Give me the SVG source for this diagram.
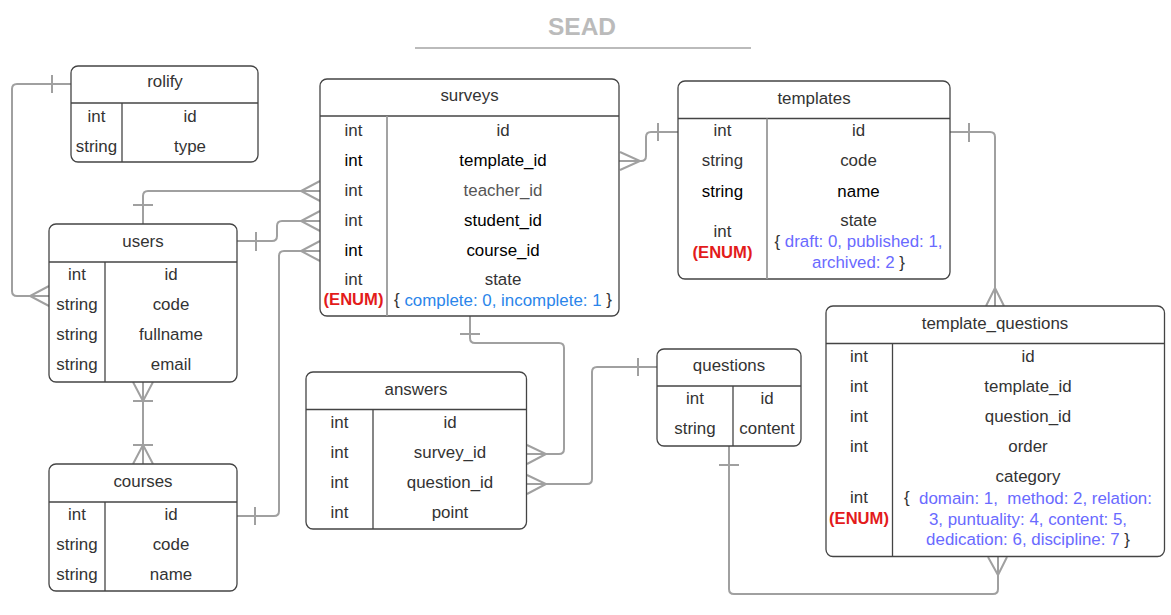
<svg xmlns="http://www.w3.org/2000/svg" width="1171" height="615" viewBox="0 0 1171 615">
<style>
text{font-family:"Liberation Sans",Arial,sans-serif;font-size:16.9px;fill:#333;text-anchor:middle;dominant-baseline:central}
.title{font-size:24.5px;font-weight:bold;fill:#bbb;dominant-baseline:auto}
.box{fill:#fff;stroke:#444;stroke-width:1.3}
.hl{stroke:#444;stroke-width:1.3}
.dv{stroke:#444;stroke-width:1.3}
.dvg{stroke:#999;stroke-width:1.8}
.k{fill:#000}
.e{fill:#e31b1b;font-weight:bold;font-size:16.6px}
.b{fill:#2a85ea}
.v{fill:#6a6aff}
.c{fill:none;stroke:#a0a0a0;stroke-width:2}
</style>
<text class="title" x="582" y="35">SEAD</text>
<line x1="415" y1="48" x2="751" y2="48" stroke="#bbb" stroke-width="2"/>

<g id="connectors" class="c">
  <!-- rolify - users -->
  <path d="M71,84 H17 Q12,84 12,89 V291 Q12,296 17,296 H49"/>
  <path d="M52,75 V93"/>
  <path d="M49,286 L30,296 L49,306"/>
  <!-- users top - surveys teacher_id -->
  <path d="M143,224 V196 Q143,191 148,191 H320"/>
  <path d="M133,205 H153"/>
  <path d="M320,181 L301,191 L320,201"/>
  <!-- users right - surveys student_id -->
  <path d="M237,241 H272 Q277,241 277,236 V226 Q277,221 282,221 H320"/>
  <path d="M256,232 V251"/>
  <path d="M320,211 L301,221 L320,231"/>
  <!-- courses right - surveys course_id -->
  <path d="M237,516 H274 Q279,516 279,511 V256 Q279,251 284,251 H320"/>
  <path d="M255,507 V525"/>
  <path d="M320,241 L301,251 L320,261"/>
  <!-- surveys template_id - templates -->
  <path d="M619,161 H641 Q646,161 646,156 V137 Q646,132 651,132 H678"/>
  <path d="M620,152 L640,161 L620,170"/>
  <path d="M658,123 V141"/>
  <!-- templates - template_questions -->
  <path d="M950,132 H990 Q995,132 995,137 V306"/>
  <path d="M969,123 V142"/>
  <path d="M986,306 L995,288 L1004,306"/>
  <!-- surveys - answers survey_id -->
  <path d="M470,316 V338 Q470,343 475,343 H559 Q564,343 564,348 V449 Q564,454 559,454 H527"/>
  <path d="M460,334 H480"/>
  <path d="M527,445 L546,454 L527,464"/>
  <!-- questions - answers question_id -->
  <path d="M657,367 H597 Q592,367 592,372 V479 Q592,484 587,484 H527"/>
  <path d="M638,358 V376"/>
  <path d="M527,475 L546,484 L527,494"/>
  <!-- questions - template_questions -->
  <path d="M729,446 V589 Q729,594 734,594 H993 Q998,594 998,589 V557"/>
  <path d="M719,465 H739"/>
  <path d="M988,557 L998,575 L1007,557"/>
  <!-- users - courses -->
  <path d="M143,382 V464"/>
  <path d="M133,382 L143,401 L153,382"/>
  <path d="M133,401 H153"/>
  <path d="M133,464 L143,445 L153,464"/>
  <path d="M133,445 H153"/>
</g>

<g id="rolify">
  <rect class="box" x="71" y="66" width="187" height="96" rx="7"/>
  <line class="hl" x1="71" y1="103" x2="258" y2="103"/>
  <line class="dv" x1="122" y1="103" x2="122" y2="162"/>
  <text x="165" y="81.5">rolify</text>
  <text x="96.5" y="116.5">int</text><text x="190" y="116.5">id</text>
  <text x="96.5" y="146">string</text><text x="190" y="146">type</text>
</g>

<g id="surveys">
  <rect class="box" x="320" y="79" width="299" height="237" rx="7"/>
  <line class="hl" x1="320" y1="116" x2="619" y2="116"/>
  <line class="dvg" x1="387" y1="116" x2="387" y2="316"/>
  <text x="469.5" y="95.5">surveys</text>
  <text x="353.5" y="130">int</text><text x="503" y="130">id</text>
  <text class="k" x="353.5" y="160">int</text><text class="k" x="503" y="160">template_id</text>
  <text x="353.5" y="190">int</text><text x="503" y="190" style="fill:#555">teacher_id</text>
  <text x="353.5" y="220">int</text><text class="k" x="503" y="220">student_id</text>
  <text class="k" x="353.5" y="250">int</text><text class="k" x="503" y="250">course_id</text>
  <text x="353.5" y="279.5">int</text><text x="503" y="279.5">state</text>
  <text class="e" x="353.5" y="299.5">(ENUM)</text>
  <text x="503" y="299.5">{ <tspan class="b">complete: 0, incomplete: 1</tspan> }</text>
</g>

<g id="templates">
  <rect class="box" x="678" y="81" width="272" height="198" rx="7"/>
  <line class="hl" x1="678" y1="118.5" x2="950" y2="118.5"/>
  <line class="dvg" x1="767" y1="118.5" x2="767" y2="279"/>
  <text x="814" y="98">templates</text>
  <text x="722.5" y="130.5">int</text><text x="858.5" y="130.5">id</text>
  <text x="722.5" y="160.5">string</text><text x="858.5" y="160.5">code</text>
  <text class="k" x="722.5" y="191">string</text><text class="k" x="858.5" y="191">name</text>
  <text x="722.5" y="231">int</text>
  <text class="e" x="722.5" y="252">(ENUM)</text>
  <text x="858.5" y="220.5">state</text>
  <text x="858.5" y="241">{ <tspan class="v">draft: 0, published: 1,</tspan></text>
  <text x="858.5" y="262"><tspan class="v">archived: 2</tspan> }</text>
</g>

<g id="users">
  <rect class="box" x="49" y="224" width="188" height="158" rx="7"/>
  <line class="hl" x1="49" y1="262" x2="237" y2="262"/>
  <line class="dv" x1="105" y1="262" x2="105" y2="382"/>
  <text x="143" y="241.5">users</text>
  <text x="77" y="274.5">int</text><text x="171" y="274.5">id</text>
  <text x="77" y="304.5">string</text><text x="171" y="304.5">code</text>
  <text x="77" y="334.5">string</text><text x="171" y="334.5">fullname</text>
  <text x="77" y="364.5">string</text><text x="171" y="364.5">email</text>
</g>

<g id="courses">
  <rect class="box" x="49" y="464" width="188" height="127" rx="7"/>
  <line class="hl" x1="49" y1="502" x2="237" y2="502"/>
  <line class="dv" x1="105" y1="502" x2="105" y2="591"/>
  <text x="143" y="481">courses</text>
  <text x="77" y="514.5">int</text><text x="171" y="514.5">id</text>
  <text x="77" y="544.5">string</text><text x="171" y="544.5">code</text>
  <text x="77" y="574.5">string</text><text x="171" y="574.5">name</text>
</g>

<g id="answers">
  <rect class="box" x="306" y="372" width="220.5" height="157" rx="7"/>
  <line class="hl" x1="306" y1="409.5" x2="526.5" y2="409.5"/>
  <line class="dv" x1="373" y1="409.5" x2="373" y2="529"/>
  <text x="416" y="389">answers</text>
  <text x="339.5" y="422.5">int</text><text x="450" y="422.5">id</text>
  <text x="339.5" y="452.5">int</text><text x="450" y="452.5">survey_id</text>
  <text x="339.5" y="482.5">int</text><text x="450" y="482.5">question_id</text>
  <text x="339.5" y="512.5">int</text><text x="450" y="512.5">point</text>
</g>

<g id="questions">
  <rect class="box" x="657" y="349" width="144" height="97" rx="7"/>
  <line class="hl" x1="657" y1="386" x2="801" y2="386"/>
  <line class="dv" x1="733" y1="386" x2="733" y2="446"/>
  <text x="729" y="365">questions</text>
  <text x="695" y="398.5">int</text><text x="767" y="398.5">id</text>
  <text x="695" y="428.5">string</text><text x="767" y="428.5">content</text>
</g>

<g id="template_questions">
  <rect class="box" x="826" y="306" width="338.5" height="250.5" rx="7"/>
  <line class="hl" x1="826" y1="343.5" x2="1164.5" y2="343.5"/>
  <line class="dv" x1="892.5" y1="343.5" x2="892.5" y2="556.5"/>
  <text x="995" y="323">template_questions</text>
  <text x="859" y="356.5">int</text><text x="1028" y="356.5">id</text>
  <text x="859" y="386.5">int</text><text x="1028" y="386.5">template_id</text>
  <text x="859" y="416.5">int</text><text x="1028" y="416.5">question_id</text>
  <text x="859" y="446.5">int</text><text x="1028" y="446.5">order</text>
  <text x="1028" y="476.5">category</text>
  <text x="859" y="497.5">int</text>
  <text class="e" x="859" y="518.5">(ENUM)</text>
  <text x="1028" y="497.5" xml:space="preserve">{  <tspan class="v">domain: 1,  method: 2, relation:</tspan></text>
  <text x="1028" y="518.5"><tspan class="v">3, puntuality: 4, content: 5,</tspan></text>
  <text x="1028" y="539"><tspan class="v">dedication: 6, discipline: 7</tspan> }</text>
</g>
</svg>
